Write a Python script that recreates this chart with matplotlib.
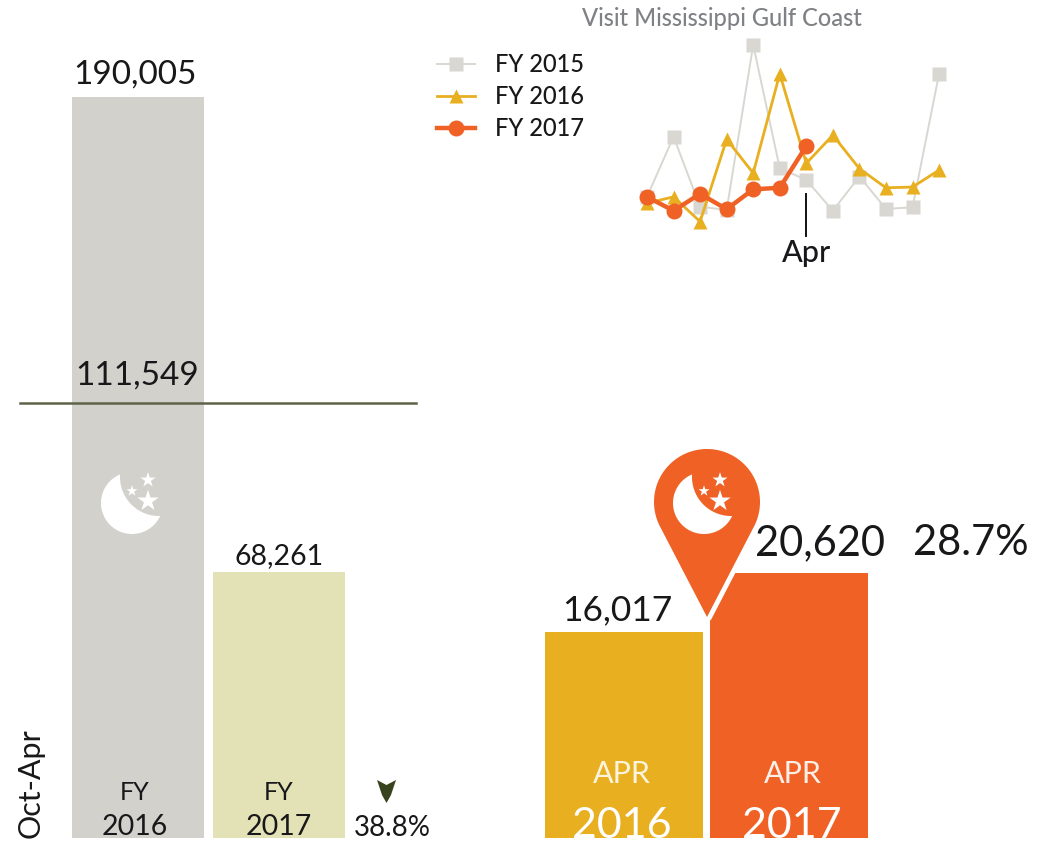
import numpy as np
import matplotlib
matplotlib.use("Agg")
import matplotlib.pyplot as plt
from matplotlib.patches import Polygon

plt.rcParams['font.family'] = ['Lato', 'DejaVu Sans']

# datos
MESES = np.arange(12)
FY2015 = [7100, 23100, 4500, 3600, 47500, 14700, 11600, 3400, 12500, 3900, 4300, 39800]
FY2016 = [5400, 7100, 500, 22400, 13400, 39800, 16017, 23500, 14600, 9500, 9700, 14200]
FY2017 = [7100, 3400, 7900, 3800, 9100, 9500, 20620]
OCT_APR = [190005, 68261]
OCT_APR_PROMEDIO = 111549
ABRIL = [16017, 20620]
CAMBIO_OCT_APR = "38.8%"
CAMBIO_ABRIL = "28.7%"

GRIS = '#d2d1cc'
KAKI = '#e3e2b6'
ORO = '#e8b021'
NARANJA = '#ef6125'
OLIVA = '#5f6347'
TINTA = '#18181a'

W, H = 1050, 842
BASE = 838


def ejes_px(fig, x0, y0, x1, y1):
    """Ejes colocados en pixeles de la imagen (y hacia abajo)"""
    ax = fig.add_axes([x0 / W, 1 - y1 / H, (x1 - x0) / W, (y1 - y0) / H])
    ax.axis('off')
    return ax


def media_luna(ax, cx, cy, color='white'):
    r1, r2 = 31, 39
    ix, iy = cx + 27, cy - 26
    d = np.hypot(ix - cx, iy - cy)
    base = np.arctan2(iy - cy, ix - cx)
    a1 = np.arccos((d**2 + r1**2 - r2**2) / (2 * d * r1))
    a2 = np.arccos((d**2 + r2**2 - r1**2) / (2 * d * r2))
    t1 = np.linspace(base + a1, base + 2 * np.pi - a1, 80)
    t2 = np.linspace(base + np.pi + a2, base + np.pi - a2, 60)
    pts = np.r_[np.c_[cx + r1 * np.cos(t1), cy + r1 * np.sin(t1)],
                np.c_[ix + r2 * np.cos(t2), iy + r2 * np.sin(t2)]]
    ax.add_patch(Polygon(pts, closed=True, fc=color, ec='none', zorder=6))
    ax.scatter([cx + 16, cx + 16, cx], [cy - 2, cy - 23, cy - 12], s=[260, 130, 70],
               marker='*', color=color, linewidths=0, zorder=6)


def marcador_mapa(ax, cx, cy, r, punta):
    d = punta - cy
    a = np.arccos(r / d)
    t = np.linspace(np.pi / 2 + a, 2.5 * np.pi - a, 120)
    pts = np.r_[np.c_[cx + r * np.cos(t), cy + r * np.sin(t)], [[cx, punta]]]
    ax.add_patch(Polygon(pts, closed=True, fc=NARANJA, ec='white', lw=7,
                         joinstyle='round', zorder=4))
    ax.add_patch(Polygon(pts, closed=True, fc=NARANJA, ec='none', zorder=5))


fig = plt.figure(figsize=(W / 100, H / 100), dpi=100, facecolor='white')

# barras Oct-Abr
ax_izq = ejes_px(fig, 0, 50, 430, BASE)
ax_izq.bar([0, 1], OCT_APR, width=132 / 141, color=[GRIS, KAKI], linewidth=0)
ax_izq.set_xlim(-138 / 141, 292 / 141)
ax_izq.set_ylim(0, OCT_APR[0] * (BASE - 50) / 741)
ax_izq.axhline(OCT_APR_PROMEDIO, xmin=20 / 430, xmax=416 / 430, color=OLIVA, lw=1.8)

# barras abril
ax_der = ejes_px(fig, 530, 540, 880, BASE)
ax_der.bar([0, 1], ABRIL, width=158 / 165, color=[ORO, NARANJA], linewidth=0)
ax_der.set_xlim(-94 / 165, 256 / 165)
ax_der.set_ylim(0, ABRIL[1] * (BASE - 540) / 265)

# serie mensual
ax_lin = ejes_px(fig, 620, 30, 960, 240)
ax_lin.plot(MESES, FY2015, color='#d8d7d2', lw=1.4, marker='s', ms=9.5, mec='none', label='FY 2015')
ax_lin.plot(MESES, FY2016, color=ORO, lw=2, marker='^', ms=10.5, mec='none', label='FY 2016')
ax_lin.plot(MESES[:len(FY2017)], FY2017, color=NARANJA, lw=3.2, marker='o', ms=11.5, mec='none', label='FY 2017')
ax_lin.set_xlim(-27 / 26.55, 313 / 26.55)
ax_lin.set_ylim(-4385, 51475)
ax_lin.legend(loc='upper left', bbox_to_anchor=(437 / W, 1 - 53 / H), bbox_transform=fig.transFigure,
              frameon=False, handlelength=1.6, handletextpad=0.85, labelspacing=0.39,
              borderpad=0, borderaxespad=0, labelcolor=TINTA, prop={'size': 17, 'weight': 'medium'})

# textos e iconos en pixeles
ov = ejes_px(fig, 0, 0, W, H)
ov.set_xlim(0, W)
ov.set_ylim(H, 0)
ov.patch.set_alpha(0)

ov.text(722, 19, "Visit Mississippi Gulf Coast", ha='center', va='center', fontsize=17,
        color='#7f8184', fontweight='medium')
ov.plot([806, 806], [194, 236], color='#111111', lw=1.4)
ov.text(807, 253, "Apr", ha='center', va='center', fontsize=22, color=TINTA, fontweight='medium')

ov.text(135, 84, f"{OCT_APR[0]:,}", ha='center', va='baseline', fontsize=24, color=TINTA)
ov.text(137, 385, f"{OCT_APR_PROMEDIO:,}", ha='center', va='baseline', fontsize=24, color=TINTA)
ov.text(279, 564, f"{OCT_APR[1]:,}", ha='center', va='baseline', fontsize=20.5, color=TINTA)
ov.text(135, 800, "FY", ha='center', va='baseline', fontsize=18, color=TINTA)
ov.text(135, 835, "2016", ha='center', va='baseline', fontsize=20.5, color=TINTA)
ov.text(279, 800, "FY", ha='center', va='baseline', fontsize=18, color=TINTA)
ov.text(279, 835, "2017", ha='center', va='baseline', fontsize=20.5, color=TINTA)
ov.text(392, 836, CAMBIO_OCT_APR, ha='center', va='baseline', fontsize=20, color=TINTA)
ov.text(45, 838, "Oct-Apr", rotation=90, ha='right', va='bottom', fontsize=22, color=TINTA)
ov.add_patch(Polygon([[377, 780], [386.5, 785], [396, 780], [391, 795], [386.5, 803], [382, 795]],
                     closed=True, fc='#39441f', ec='none'))

ov.text(617, 620, f"{ABRIL[0]:,}", ha='center', va='baseline', fontsize=25.5, color=TINTA)
ov.text(820, 555, f"{ABRIL[1]:,}", ha='center', va='baseline', fontsize=30, color=TINTA)
ov.text(971, 555, CAMBIO_ABRIL, ha='center', va='baseline', fontsize=30, color=TINTA)
ov.text(622, 783, "APR", ha='center', va='baseline', fontsize=22, color='#fbf3dc')
ov.text(793, 783, "APR", ha='center', va='baseline', fontsize=22, color='#fdeee6')
ov.text(622, 838, "2016", ha='center', va='baseline', fontsize=31, color='white')
ov.text(792, 838, "2017", ha='center', va='baseline', fontsize=31, color='white')

media_luna(ov, 132, 503)
marcador_mapa(ov, 707, 502, 53, 617)
media_luna(ov, 704, 503)

fig.savefig('out.png', dpi=100, facecolor='white')
